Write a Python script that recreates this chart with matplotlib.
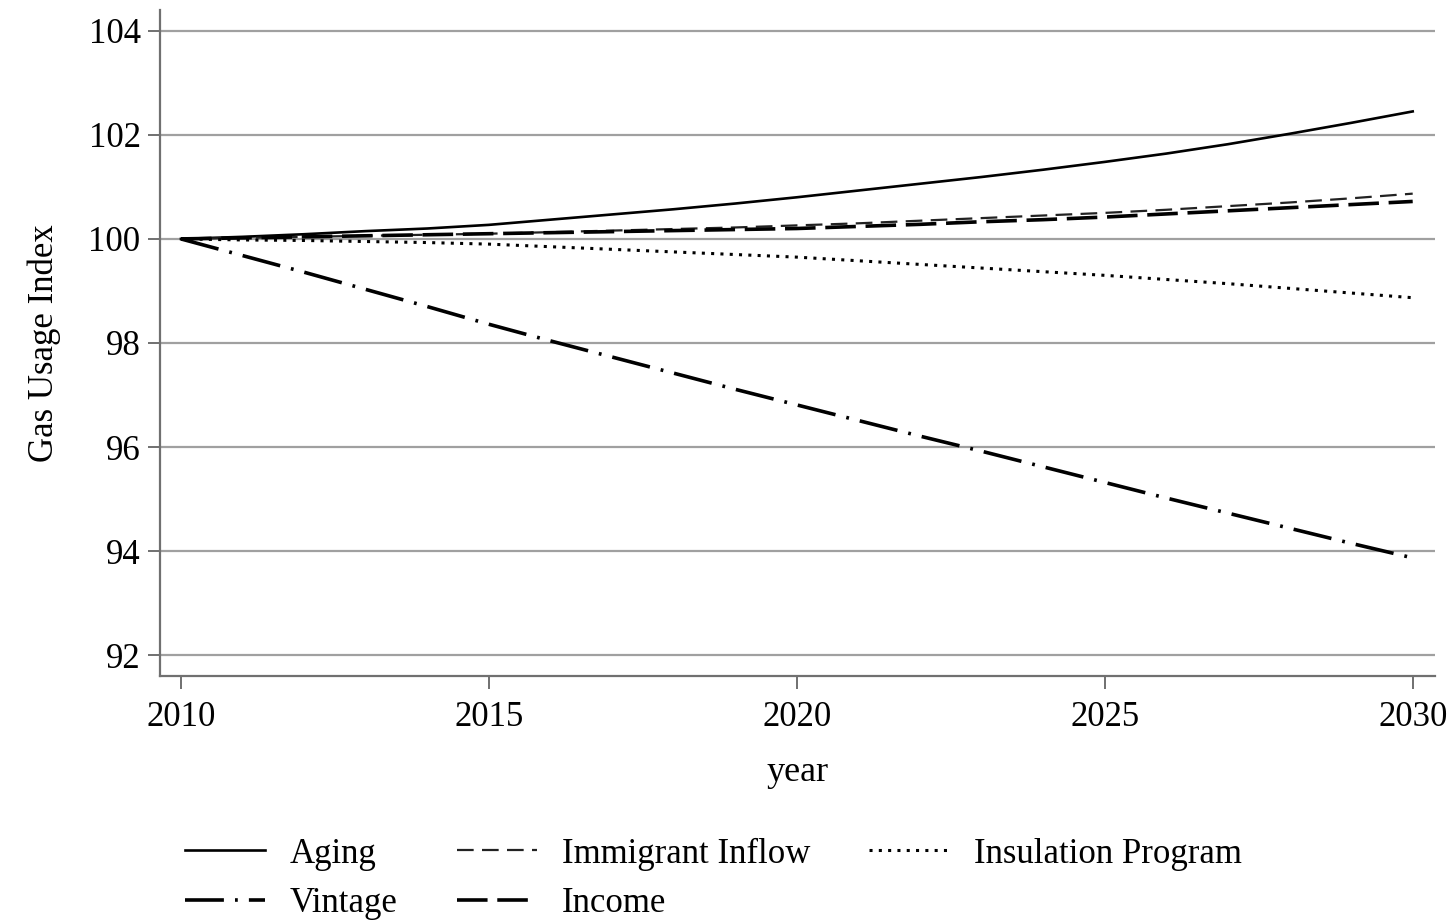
import matplotlib
matplotlib.use("Agg")
import matplotlib.pyplot as plt

plt.rcParams['font.family'] = ['Liberation Serif', 'DejaVu Serif']
plt.rcParams['lines.scale_dashes'] = False

years = list(range(2010, 2031))

aging = [100.00, 100.04, 100.09, 100.15, 100.20, 100.27, 100.37, 100.47, 100.57, 100.68,
         100.80, 100.93, 101.06, 101.19, 101.33, 101.48, 101.64, 101.82, 102.02, 102.23, 102.45]
immigrant = [100.00, 100.02, 100.04, 100.06, 100.08, 100.10, 100.13, 100.16, 100.19, 100.22,
             100.26, 100.30, 100.35, 100.40, 100.45, 100.50, 100.56, 100.63, 100.70, 100.78, 100.87]
insulation = [100.00, 99.98, 99.97, 99.95, 99.93, 99.90, 99.85, 99.80, 99.75, 99.70,
              99.65, 99.58, 99.51, 99.44, 99.37, 99.30, 99.22, 99.14, 99.05, 98.96, 98.87]
vintage = [100.00, 99.68, 99.36, 99.03, 98.70, 98.36, 98.04, 97.73, 97.42, 97.11,
           96.81, 96.51, 96.21, 95.92, 95.62, 95.32, 95.02, 94.73, 94.44, 94.15, 93.87]
income = [100.00, 100.02, 100.04, 100.06, 100.08, 100.10, 100.12, 100.14, 100.16, 100.18,
          100.20, 100.24, 100.28, 100.33, 100.37, 100.42, 100.48, 100.54, 100.60, 100.66, 100.72]

yticks = [92, 94, 96, 98, 100, 102, 104]
xticks = [2010, 2015, 2020, 2025, 2030]

fig = plt.figure(figsize=(14.52, 9.22), dpi=100)
ax = fig.add_axes([0.1102, 0.2668, 0.878, 0.7224])

for y in yticks:
    ax.axhline(y, color='#a0a0a0', lw=1.6, zorder=1)

ax.plot(years, aging, color='black', lw=1.9, label='Aging', zorder=3)
ax.plot(years, vintage, color='black', lw=2.6, dashes=(28, 8, 2, 8), label='Vintage', zorder=3)
ax.plot(years, immigrant, color='#222222', lw=1.6, dashes=(12, 6), label='Immigrant Inflow', zorder=3)
ax.plot(years, income, color='black', lw=2.6, dashes=(22, 7), label='Income', zorder=3)
ax.plot(years, insulation, color='black', lw=2.2, dashes=(2.2, 4.5), label='Insulation Program', zorder=3)

ax.set_xlim(2009.66, 2030.36)
ax.set_ylim(91.6, 104.4)
ax.set_xticks(xticks)
ax.set_yticks(yticks)
ax.tick_params(labelsize=25, length=9, width=1.4, color='#707070')
ax.tick_params(axis='x', pad=9)
ax.tick_params(axis='y', pad=5)
for s in ['top', 'right']:
    ax.spines[s].set_visible(False)
for s in ['left', 'bottom']:
    ax.spines[s].set_color('#707070')
    ax.spines[s].set_linewidth(1.6)

ax.set_xlabel('year', fontsize=26, labelpad=16)
ax.set_ylabel('Gas Usage Index', fontsize=25, labelpad=20)

fig.legend(loc='lower left', bbox_to_anchor=(0.106, -0.032), ncol=3, frameon=False,
           fontsize=25, handlelength=2.3, handletextpad=0.72, columnspacing=1.7,
           labelspacing=0.48)

fig.savefig('out.png', dpi=100)
